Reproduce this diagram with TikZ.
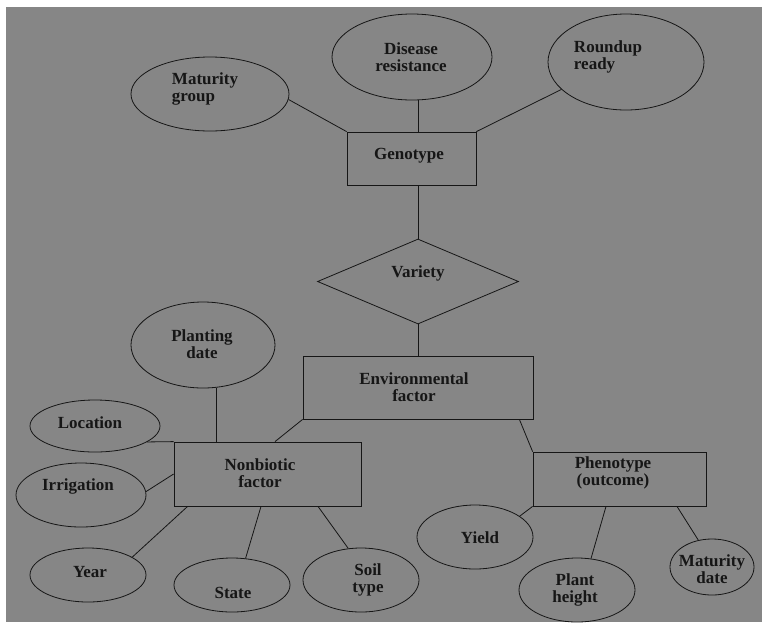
\documentclass[tikz,border=0pt]{standalone}
\usepackage{fontspec}
\setmainfont{Liberation Serif}
\usetikzlibrary{shapes.geometric}
\definecolor{bggray}{RGB}{134,134,134}
\definecolor{ink}{RGB}{22,22,22}
\tikzset{
  attr/.style={draw=ink, line width=0.8pt, ellipse, inner sep=0pt},
  ent/.style={draw=ink, line width=0.8pt, rectangle, inner sep=0pt},
  rel/.style={draw=ink, line width=0.8pt, diamond, inner sep=0pt},
  lbl/.style={text=ink, align=center, inner sep=0pt, font=\fontsize{17}{17}\selectfont\bfseries},
  conn/.style={draw=ink, line width=0.8pt}
}
\begin{document}
\begin{tikzpicture}[x=1pt, y=-1pt]
\useasboundingbox (0,0) rectangle (762,622);
\fill[white] (0,0) rectangle (762,622);
\fill[bggray] (6,7) rectangle (762,622);

% ellipses (attributes)
\node[attr, minimum width=158pt, minimum height=74pt] (matg) at (210,94) {};
\node[attr, minimum width=160pt, minimum height=86pt] (dis) at (412,57) {};
\node[attr, minimum width=156pt, minimum height=96pt] (rr) at (626,62) {};
\node[attr, minimum width=144pt, minimum height=86pt] (plant) at (203,345) {};
\node[attr, minimum width=130pt, minimum height=52pt] (loc) at (95,426) {};
\node[attr, minimum width=130pt, minimum height=64pt] (irr) at (81,495) {};
\node[attr, minimum width=116pt, minimum height=54pt] (year) at (88,575) {};
\node[attr, minimum width=116pt, minimum height=54pt] (state) at (232,585) {};
\node[attr, minimum width=116pt, minimum height=64pt] (soil) at (361,580) {};
\node[attr, minimum width=116pt, minimum height=64pt] (yield) at (475,537) {};
\node[attr, minimum width=116pt, minimum height=64pt] (ph) at (577,590) {};
\node[attr, minimum width=84pt, minimum height=56pt] (matd) at (712,567) {};

% boxes (entities)
\node[ent, minimum width=129pt, minimum height=53pt] (geno) at (411.5,158.5) {};
\node[ent, minimum width=230pt, minimum height=63pt] (env) at (418,387.5) {};
\node[ent, minimum width=187pt, minimum height=64pt] (nonb) at (267.5,474) {};
\node[ent, minimum width=173pt, minimum height=54pt] (phen) at (619.5,479) {};

% diamond (relationship)
\node[rel, minimum width=201pt, minimum height=85pt] (var) at (418,281.5) {};

% labels
\node[lbl] (tmatg) at (205,90) {\begin{tabular}{@{}l@{}}Maturity\\group\end{tabular}};
\node[lbl] (tdis) at (411,57) {Disease\\resistance};
\node[lbl] (trr) at (608,58) {\begin{tabular}{@{}l@{}}Roundup\\ready\end{tabular}};
\node[lbl] (tgeno) at (409,156) {Genotype};
\node[lbl] (tvar) at (418,273) {Variety};
\node[lbl] (tenv) at (414,387) {Environmental\\factor};
\node[lbl] (tplant) at (202,344) {Planting\\date};
\node[lbl] (tloc) at (90,423) {Location};
\node[lbl] (tnonb) at (260,473) {Nonbiotic\\factor};
\node[lbl] (tirr) at (78,486) {Irrigation};
\node[lbl] (tphen) at (613,473) {Phenotype\\(outcome)};
\node[lbl] (tyear) at (90,572) {Year};
\node[lbl] (tstate) at (233,593) {State};
\node[lbl] (tsoil) at (368,580) {Soil\\type};
\node[lbl] (tyield) at (480,538) {Yield};
\node[lbl] (tph) at (575,590) {Plant\\height};
\node[lbl] (tmatd) at (712,569) {Maturity\\date};

% connectors
\draw[conn] (matg.-4) -- (geno.north west);
\draw[conn] (dis.south -| var.north) -- (geno.north -| var.north);
\draw[conn] (rr.-157) -- (geno.north east);
\draw[conn] (geno.south -| var.north) -- (var.north);
\draw[conn] (var.south) -- (env.north);
\draw[conn] (env.south west) -- ([xshift=7.5pt]nonb.north);
\draw[conn] ([xshift=-14pt]env.south east) -- (phen.north west);
\draw[conn] (plant.-72) -- (plant.-72 |- nonb.north);
\draw[conn] (loc.-17) -- (nonb.north west);
\draw[conn] (irr.3) -- (nonb.west);
\draw[conn] (year.22) -- ([xshift=14pt]nonb.south west);
\draw[conn] (state.63) -- ([xshift=-6.5pt]nonb.south);
\draw[conn] (soil.112) -- ([xshift=50.5pt]nonb.south);
\draw[conn] (yield.25) -- (phen.south west);
\draw[conn] (ph.66) -- ([xshift=-13.5pt]phen.south);
\draw[conn] (matd.117) -- ([xshift=57.5pt]phen.south);
\end{tikzpicture}
\end{document}
